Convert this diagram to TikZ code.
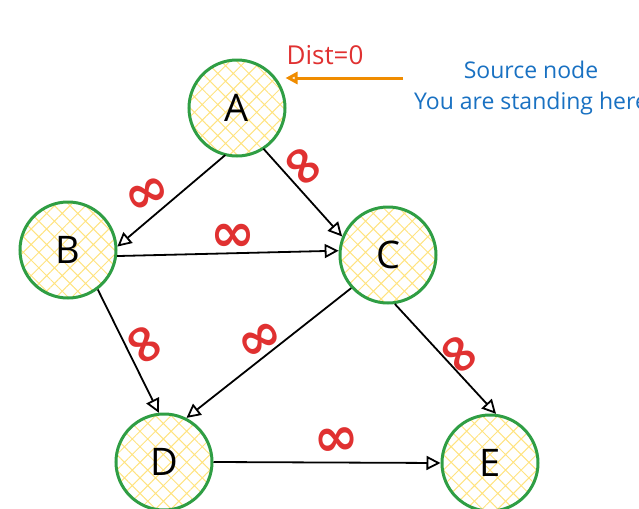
\documentclass[tikz,border=0pt]{standalone}
\usepackage{fontspec}
\setmainfont{Open Sans}
\newfontfamily\symfont{DejaVu Sans}
\usetikzlibrary{
	arrows.meta,
	patterns.meta
}
\definecolor{vtxgreen}{HTML}{2F9E44}
\definecolor{hatchyellow}{HTML}{FFE380}
\definecolor{infred}{HTML}{E03131}
\definecolor{srcblue}{HTML}{1971C2}
\definecolor{srcorange}{HTML}{F08C00}

\begin{document}
\begin{tikzpicture}[
		x=0.5pt, y=-0.5pt,
		vertex/.style={circle, draw=vtxgreen, line width=1.5pt, minimum size=48pt, inner sep=0pt,
			pattern={Hatch[angle=45,distance=5.5pt,line width=0.5pt]}, pattern color=hatchyellow,
			font=\fontsize{19}{21}\selectfont},
		arrow/.style={-{Triangle[open,length=7pt,width=7pt]}, line width=0.9pt},
		weight/.style={text=infred, inner sep=0pt, font=\symfont\bfseries\fontsize{27}{27}\selectfont}
		]
		\useasboundingbox (0,0) rectangle (639,509);
		
		\node[vertex] (A) at (237,108) {A};
		\node[vertex] (B) at (68,250) {B};
		\node[vertex] (C) at (388,255) {C};
		\node[vertex] (D) at (164,462) {D};
		\node[vertex] (E) at (490,463) {E};
		
		\draw[arrow] (A.-104) -- (B.4);
		\draw[arrow] (A.-57) -- (C.158);
		\draw[arrow] (B.-7) -- (C.175);
		\draw[arrow] (B.-53) -- (D.96);
		\draw[arrow] (C.-138) -- (D.63);
		\draw[arrow] (C.-82) -- (E.83);
		\draw[arrow] (D.0) -- (E.180);
		
		% edge weights
		\node[weight, rotate=25] (wAB) at (148,196) {∞};
		\node[weight, rotate=-50] (wAC) at (301,168) {∞};
		\node[weight] (wBC) at (233,238) {∞};
		\node[weight, rotate=-55] (wBD) at (143,346) {∞};
		\node[weight, rotate=30] (wCD) at (261,341) {∞};
		\node[weight, rotate=-50] (wCE) at (457,356) {∞};
		\node[weight, rotate=5] (wDE) at (337,442) {∞};
		
		% source marker
		\node[text=infred, font=\fontsize{13}{15}\selectfont] (dist) at (325,55) {Dist=0};
		\node[text=srcblue, align=center, font=\fontsize{11.5}{15.5}\selectfont] (src) at (531,88) {Source node\\You are standing here};
		\coordinate (srcTail) at (403,78);
		\draw[-{Triangle[open,length=6pt,width=6pt]}, line width=1.5pt, srcorange] (srcTail) -- (srcTail -| A.east);
		
	\end{tikzpicture}
\end{document}
